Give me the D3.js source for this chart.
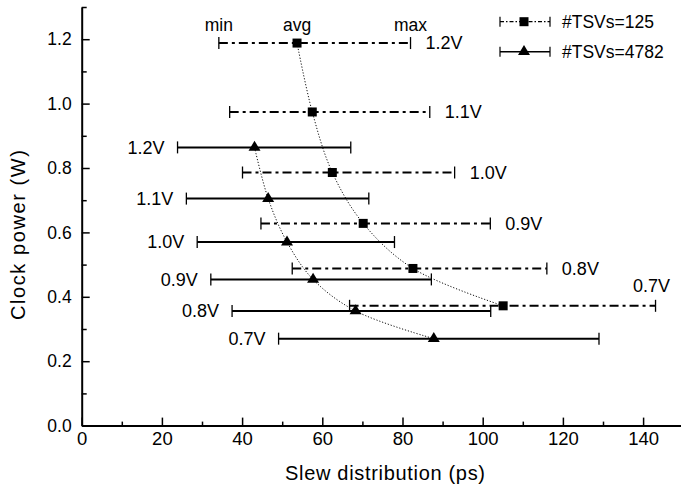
<!DOCTYPE html>
<html>
<head>
<meta charset="utf-8">
<script src="https://cdn.jsdelivr.net/npm/d3@7"></script>
<style>
	body { margin: 0; background: #fff; }
	svg { display: block; font-family: "Liberation Sans", Arial, sans-serif; }
</style>
</head>
<body>
<div id="chart"></div>
<script>
// values
const voltages = ["1.2V", "1.1V", "1.0V", "0.9V", "0.8V", "0.7V"];

const tsv125Power = [1.188, 0.974, 0.786, 0.628, 0.488, 0.372];
const tsv125Min = [34.2, 36.9, 40.1, 44.7, 52.5, 66.8];
const tsv125Avg = [53.7, 57.5, 62.5, 70.2, 82.6, 105.1];
const tsv125Max = [82.0, 86.8, 93.0, 101.9, 116.0, 143.1];

const tsv4782Power = [0.864, 0.705, 0.570, 0.454, 0.356, 0.270];
const tsv4782Min = [23.9, 26.1, 28.8, 32.2, 37.5, 49.1];
const tsv4782Avg = [43.1, 46.5, 51.2, 57.7, 68.3, 87.8];
const tsv4782Max = [67.1, 71.6, 78.0, 87.2, 102.0, 129.0];

const xMajorTicks = [0, 20, 40, 60, 80, 100, 120, 140];
const xMinorTicks = [10, 30, 50, 70, 90, 110, 130];
const yMajorTicks = [0, 0.2, 0.4, 0.6, 0.8, 1.0, 1.2];
const yMinorTicks = [0.1, 0.3, 0.5, 0.7, 0.9, 1.1, 1.3];

const w = 681, h = 487;
const dashDot = "9,4,3,4";

let svg = d3.select("#chart").append("svg")
	.attr("width", w)
	.attr("height", h);

let x = d3.scaleLinear().domain([0, 150]).range([81.7, 683.2]);
let y = d3.scaleLinear().domain([0, 1.3]).range([425.6, 7]);

function rows(power, min, avg, max) {
	return voltages.map((v, i) => ({ label: v, power: power[i], min: min[i], avg: avg[i], max: max[i], i: i }));
}

let series125 = rows(tsv125Power, tsv125Min, tsv125Avg, tsv125Max);
let series4782 = rows(tsv4782Power, tsv4782Min, tsv4782Avg, tsv4782Max);

// axes
let xAxis = svg.append("g")
	.attr("transform", "translate(0," + y(0) + ")")
	.call(d3.axisBottom(x).tickValues(xMajorTicks).tickFormat(d3.format("d"))
		.tickSizeInner(-8).tickSizeOuter(0).tickPadding(6));
svg.append("g")
	.attr("transform", "translate(0," + y(0) + ")")
	.call(d3.axisBottom(x).tickValues(xMinorTicks).tickFormat("").tickSizeInner(-4).tickSizeOuter(0))
	.call(g => g.select(".domain").remove());

let yAxis = svg.append("g")
	.attr("transform", "translate(" + x(0) + ",0)")
	.call(d3.axisLeft(y).tickValues(yMajorTicks).tickFormat(d3.format(".1f"))
		.tickSizeInner(-8).tickSizeOuter(0).tickPadding(10));
svg.append("g")
	.attr("transform", "translate(" + x(0) + ",0)")
	.call(d3.axisLeft(y).tickValues(yMinorTicks).tickFormat("").tickSizeInner(-5).tickSizeOuter(0))
	.call(g => g.select(".domain").remove());

svg.selectAll(".domain").attr("stroke", "#000").attr("stroke-width", 2);
svg.selectAll(".tick line").attr("stroke", "#000").attr("stroke-width", 1.5);
xAxis.selectAll("text").attr("font-size", 18.5).attr("fill", "#000");
yAxis.selectAll("text").attr("font-size", 17.5).attr("fill", "#000");

svg.append("text")
	.attr("x", 385)
	.attr("y", 480)
	.attr("text-anchor", "middle")
	.attr("font-size", 20)
	.attr("textLength", 200)
	.text("Slew distribution (ps)");

svg.append("text")
	.attr("transform", "translate(25,235) rotate(-90)")
	.attr("text-anchor", "middle")
	.attr("font-size", 20)
	.attr("textLength", 170)
	.text("Clock power (W)");

// dotted trend curves through the averages
let trend = d3.line()
	.x(d => x(d.avg))
	.y(d => y(d.power))
	.curve(d3.curveCatmullRom);

[series125, series4782].forEach(s => {
	svg.append("path")
		.attr("d", trend(s))
		.attr("fill", "none")
		.attr("stroke", "#111")
		.attr("stroke-width", 1)
		.attr("stroke-dasharray", "1.2,1.8");
});

function drawRanges(data, dash, cls) {
	let g = svg.append("g").attr("class", cls);
	g.selectAll("line.range")
		.data(data)
		.enter().append("line")
		.attr("class", "range")
		.attr("x1", d => x(d.min))
		.attr("x2", d => x(d.max))
		.attr("y1", d => y(d.power))
		.attr("y2", d => y(d.power))
		.attr("stroke", "#000")
		.attr("stroke-width", 2)
		.attr("stroke-dasharray", dash);

	["min", "max"].forEach(k => {
		g.selectAll("line.cap-" + k)
			.data(data)
			.enter().append("line")
			.attr("class", "cap-" + k)
			.attr("x1", d => x(d[k]))
			.attr("x2", d => x(d[k]))
			.attr("y1", d => y(d.power) - 6)
			.attr("y2", d => y(d.power) + 6)
			.attr("stroke", "#000")
			.attr("stroke-width", 1.3);
	});
	return g;
}

let g125 = drawRanges(series125, dashDot, "tsv125");
let g4782 = drawRanges(series4782, null, "tsv4782");

const trianglePath = "M0,-6.6L6,3.4L-6,3.4Z";

g125.selectAll("rect")
	.data(series125)
	.enter().append("rect")
	.attr("x", d => x(d.avg) - 4.5)
	.attr("y", d => y(d.power) - 4.5)
	.attr("width", 9)
	.attr("height", 9)
	.attr("fill", "#000");

g4782.selectAll("path.marker")
	.data(series4782)
	.enter().append("path")
	.attr("class", "marker")
	.attr("d", trianglePath)
	.attr("transform", d => "translate(" + x(d.avg) + "," + y(d.power) + ")")
	.attr("fill", "#000");

// voltage labels
g125.selectAll("text")
	.data(series125)
	.enter().append("text")
	.attr("x", d => d.i == series125.length - 1 ? x(d.max) - 4 : x(d.max) + 15)
	.attr("y", d => d.i == series125.length - 1 ? y(d.power) - 20 : y(d.power))
	.attr("dy", "0.35em")
	.attr("text-anchor", d => d.i == series125.length - 1 ? "middle" : "start")
	.attr("font-size", 18)
	.text(d => d.label);

g4782.selectAll("text")
	.data(series4782)
	.enter().append("text")
	.attr("x", d => x(d.min) - 13)
	.attr("y", d => y(d.power))
	.attr("dy", "0.35em")
	.attr("text-anchor", "end")
	.attr("font-size", 18)
	.text(d => d.label);

// min / avg / max annotations over the top bar
let topBar = series125[0];
[["min", topBar.min], ["avg", topBar.avg], ["max", topBar.max]].forEach(([name, val]) => {
	svg.append("text")
		.attr("x", x(val))
		.attr("y", 31)
		.attr("text-anchor", "middle")
		.attr("font-size", 17.5)
		.text(name);
});

// legend
let legend = svg.append("g").attr("transform", "translate(500,0)");
let legendRows = [
	{ label: "#TSVs=125", y: 21.7, dash: "4,2,1.5,2", marker: "square" },
	{ label: "#TSVs=4782", y: 51.7, dash: null, marker: "triangle" }
];

legendRows.forEach(r => {
	legend.append("line")
		.attr("x1", 0).attr("x2", 50)
		.attr("y1", r.y).attr("y2", r.y)
		.attr("stroke", "#000")
		.attr("stroke-width", r.dash ? 1.2 : 1.6)
		.attr("stroke-dasharray", r.dash);
	[0, 50].forEach(cx => {
		legend.append("line")
			.attr("x1", cx).attr("x2", cx)
			.attr("y1", r.y - 5).attr("y2", r.y + 5)
			.attr("stroke", "#000")
			.attr("stroke-width", 1.2);
	});
	if (r.marker == "square") {
		legend.append("rect")
			.attr("x", 24 - 4.5).attr("y", r.y - 4.5)
			.attr("width", 9).attr("height", 9)
			.attr("fill", "#000");
	} else {
		legend.append("path")
			.attr("d", trianglePath)
			.attr("transform", "translate(24," + r.y + ")")
			.attr("fill", "#000");
	}
	legend.append("text")
		.attr("x", 62)
		.attr("y", r.y)
		.attr("dy", "0.35em")
		.attr("font-size", 17.5)
		.text(r.label);
});
</script>
</body>
</html>
